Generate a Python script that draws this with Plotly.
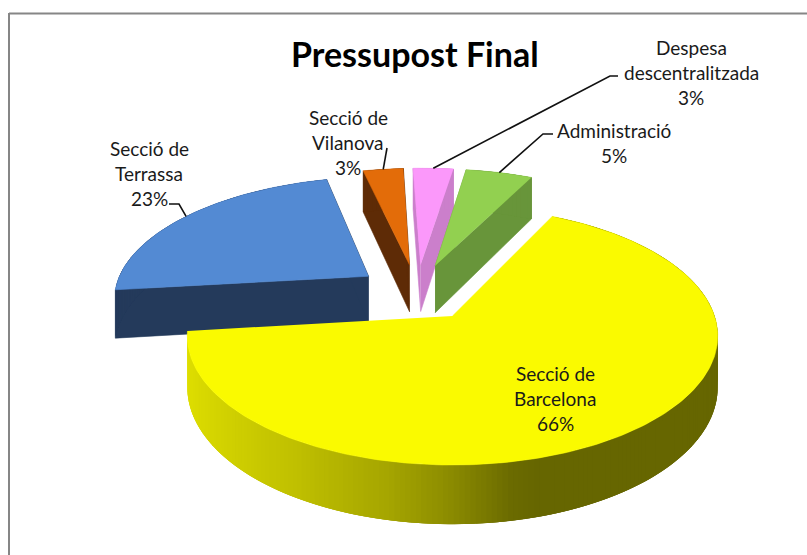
import math
import numpy as np
import plotly.graph_objects as go

# ---- data ----
categories = ["Secció de Barcelona", "Secció de Terrassa", "Secció de Vilanova",
              "Despesa descentralitzada", "Administració"]
values = [66, 23, 3, 3, 5]
top_colors = ["#FAFA00", "#538AD3", "#E36C09", "#FB98FA", "#92D050"]
wall_colors = [None, "#243A5B", "#5E2B06", "#CB7FCB", "#68953A"]
label_lines = [["Secció de", "Barcelona"], ["Secció de", "Terrassa"], ["Secció de", "Vilanova"],
               ["Despesa", "descentralitzada"], ["Administració"]]
label_xy = [(555, 373), (149, 148), (348, 117), (691, 47), (614, 130)]
leader_elbows = [[], [(169, 204), (179, 204)], [(387, 148)], [(618, 76), (610, 76)], [(553, 134), (543, 134)]]
title_text = "Pressupost Final"

# ---- pie geometry (perspective projection of a tilted exploded pie) ----
START_DEG = 25.7        # clockwise from the back of the pie
EXPLODE = 0.24
PERSP = 0.155
RX, RY = 262.0, 125.9
DEPTH = 50.0
first_mid = START_DEG + values[0] * 1.8
ANCHOR_X = EXPLODE * math.sin(math.radians(first_mid))
ANCHOR_Y = EXPLODE * math.cos(math.radians(first_mid))
SCREEN_X, SCREEN_Y = 452.5, 316.0


def project(gx, gy, z=0.0):
    gx, gy = gx - ANCHOR_X, gy - ANCHOR_Y
    w = 1 + PERSP * gy
    return SCREEN_X + RX * gx / w, SCREEN_Y - RY * gy / w + z * DEPTH / w


def yellow_shade(deg):
    nx = math.sin(math.radians(deg))
    return float(np.interp(nx, [-1, -0.5, -0.2, 0, 0.2, 0.3, 1], [0.88, 0.75, 0.65, 0.55, 0.42, 0.40, 0.40]))


fig = go.Figure()


def poly(xs, ys, color, width=0.6):
    fig.add_trace(go.Scatter(x=xs, y=ys, mode="lines", fill="toself", fillcolor=color,
                             line=dict(color=color, width=width), hoverinfo="skip", showlegend=False))


# slice angles come from the values
angles = []
a = START_DEG
for v in values:
    angles.append((a, a + v * 3.6))
    a += v * 3.6

leaders = {}
for i in [2, 3, 4, 1, 0]:
    a0, a1 = angles[i]
    mid = math.radians((a0 + a1) / 2)
    ox, oy = EXPLODE * math.sin(mid), EXPLODE * math.cos(mid)
    arc = np.radians(np.linspace(a0, a1, max(8, int(a1 - a0))))
    gx = ox + np.sin(arc)
    gy = oy + np.cos(arc)
    top = [project(x, y) for x, y in zip(gx, gy)]
    bot = [project(x, y, 1) for x, y in zip(gx, gy)]
    apex_t = project(ox, oy)
    apex_b = project(ox, oy, 1)
    # radial walls
    if wall_colors[i]:
        poly([apex_t[0], top[0][0], bot[0][0], apex_b[0]], [apex_t[1], top[0][1], bot[0][1], apex_b[1]], wall_colors[i])
        poly([apex_t[0], top[-1][0], bot[-1][0], apex_b[0]], [apex_t[1], top[-1][1], bot[-1][1], apex_b[1]], wall_colors[i])
    # outer wall: each band overlaps the next so no seams show
    for k in range(len(top) - 1):
        if wall_colors[i]:
            col = wall_colors[i]
        else:
            s = yellow_shade(math.degrees(arc[k]))
            col = "rgb(%d,%d,0)" % (255 * s, 255 * s)
        e = min(k + 3, len(top) - 1)
        idx = list(range(k, e + 1))
        poly([top[j][0] for j in idx] + [bot[j][0] for j in reversed(idx)],
             [top[j][1] for j in idx] + [bot[j][1] for j in reversed(idx)], col, 0)
    # top face
    poly([apex_t[0]] + [p[0] for p in top], [apex_t[1]] + [p[1] for p in top], top_colors[i])
    leaders[i] = project(ox + math.sin(mid), oy + math.cos(mid))

# leader lines
for i, elbows in enumerate(leader_elbows):
    if not elbows:
        continue
    pts = list(elbows) + [leaders[i]]
    fig.add_trace(go.Scatter(x=[p[0] for p in pts], y=[p[1] for p in pts], mode="lines",
                             line=dict(color="#111111", width=1.6), hoverinfo="skip", showlegend=False))

FONT = "Lato, Carlito, sans-serif"
ann = [dict(x=414.5, y=53, text="<b>%s</b>" % title_text, showarrow=False, xanchor="center", yanchor="middle",
            font=dict(family=FONT, size=34, color="#000000"))]
for i, lines in enumerate(label_lines):
    lx, ly = label_xy[i]
    for j, t in enumerate(lines + ["%d%%" % values[i]]):
        ann.append(dict(x=lx, y=ly + 25.3 * j, text=t, showarrow=False, xanchor="center", yanchor="middle",
                        font=dict(family=FONT, size=19, color="#1A1A1A")))

fig.update_layout(
    width=807, height=555, margin=dict(l=0, r=0, t=0, b=0), autosize=False,
    paper_bgcolor="white", plot_bgcolor="white", showlegend=False,
    xaxis=dict(range=[0, 807], visible=False, fixedrange=True),
    yaxis=dict(range=[555, 0], visible=False, fixedrange=True),
    annotations=ann,
    shapes=[dict(type="line", xref="x", yref="y", x0=9, y0=13.5, x1=807, y1=13.5,
                 line=dict(color="#868686", width=2), layer="below"),
            dict(type="line", xref="x", yref="y", x0=9, y0=13, x1=9, y1=555,
                 line=dict(color="#868686", width=2), layer="below")],
)
fig.write_html("out.html", config={"displayModeBar": False},
               post_script="document.body.style.margin='0';document.body.style.overflow='hidden';")
